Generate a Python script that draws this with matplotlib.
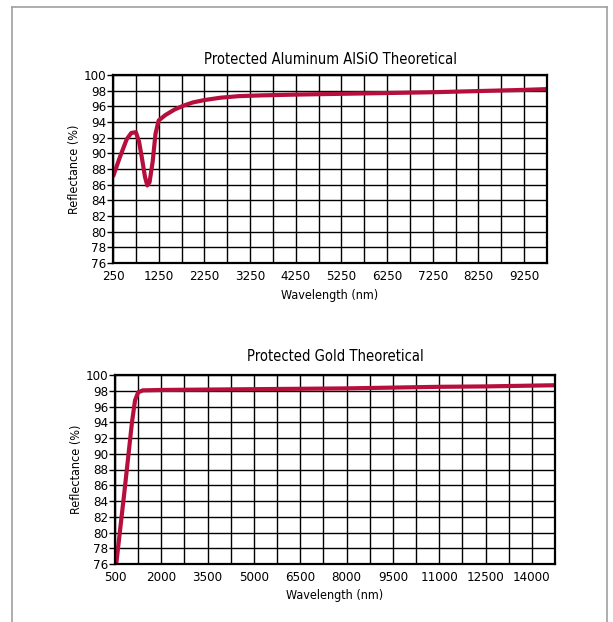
import numpy as np
import matplotlib.pyplot as plt
from matplotlib.lines import Line2D

# Protected Aluminum AlSiO
al_wl = [250, 400, 550, 650, 750, 820, 880, 950, 1000, 1050, 1120, 1180, 1250,
         1400, 1600, 1800, 2000, 2250, 2600, 3000, 3500, 4250, 5250, 6250,
         7250, 8250, 9250, 9750]
al_refl = [87.0, 89.5, 91.8, 92.6, 92.7, 91.5, 89.5, 87.0, 85.9, 86.3, 89.0,
           92.5, 94.2, 94.9, 95.6, 96.1, 96.5, 96.8, 97.1, 97.3, 97.4, 97.5,
           97.6, 97.7, 97.8, 97.95, 98.1, 98.2]

# Protected Gold
au_wl = [540, 800, 1050, 1150, 1250, 1400, 2000, 3500, 5000, 6500, 8000, 9500,
         11000, 12500, 14000, 14750]
au_refl = [76.0, 85.0, 94.0, 96.8, 97.8, 98.05, 98.1, 98.15, 98.2, 98.25,
           98.3, 98.4, 98.5, 98.55, 98.65, 98.7]

al_ticks = [250, 1250, 2250, 3250, 4250, 5250, 6250, 7250, 8250, 9250]
au_ticks = [500, 2000, 3500, 5000, 6500, 8000, 9500, 11000, 12500, 14000]
y_ticks = list(range(76, 101, 2))

RED = '#b70f3d'

plt.rcParams['font.family'] = ['DejaVu Sans']
plt.rcParams['font.stretch'] = 'condensed'

fig = plt.figure(figsize=(6.13, 6.22), dpi=100)

# light gray frame (no bottom edge)
fig.add_artist(Line2D([12/613, 12/613], [0, 1 - 7/622], transform=fig.transFigure, color='#a0a0a0', lw=1.2))
fig.add_artist(Line2D([12/613, 607/613], [1 - 7/622, 1 - 7/622], transform=fig.transFigure, color='#a0a0a0', lw=1.2))
fig.add_artist(Line2D([607/613, 607/613], [0, 1 - 7/622], transform=fig.transFigure, color='#a0a0a0', lw=1.2))


def style(ax, xlim, ticks, step, title, title_pad):
    ax.set_xlim(*xlim)
    ax.set_ylim(76, 100)
    ax.set_xticks(ticks)
    ax.set_xticks(np.arange(xlim[0], xlim[1] + 1, step), minor=True)
    ax.set_yticks(y_ticks)
    ax.grid(True, which='both', color='black', lw=1.0)
    ax.set_axisbelow(True)
    for s in ax.spines.values():
        s.set_linewidth(1.6)
    ax.tick_params(axis='x', which='both', length=0, pad=5, labelsize=9.5)
    ax.tick_params(axis='y', length=4, width=1, pad=1, labelsize=9.5)
    ax.set_title(title, fontsize=10.5, pad=title_pad)
    ax.set_xlabel('Wavelength (nm)', fontsize=9, labelpad=4)
    ax.set_ylabel('Reflectance (%)', fontsize=9, labelpad=2)


ax1 = fig.add_axes([113/613, 1 - 263/622, 434/613, 188/622])
ax1.plot(al_wl, al_refl, color=RED, lw=3, solid_capstyle='butt')
style(ax1, (250, 9750), al_ticks, 500, 'Protected Aluminum AlSiO Theoretical', 8)

ax2 = fig.add_axes([115/613, 1 - 564/622, 440/613, 189/622])
ax2.plot(au_wl, au_refl, color=RED, lw=3, solid_capstyle='butt')
style(ax2, (500, 14750), au_ticks, 750, 'Protected Gold Theoretical', 10)

fig.savefig('out.png', dpi=100)
